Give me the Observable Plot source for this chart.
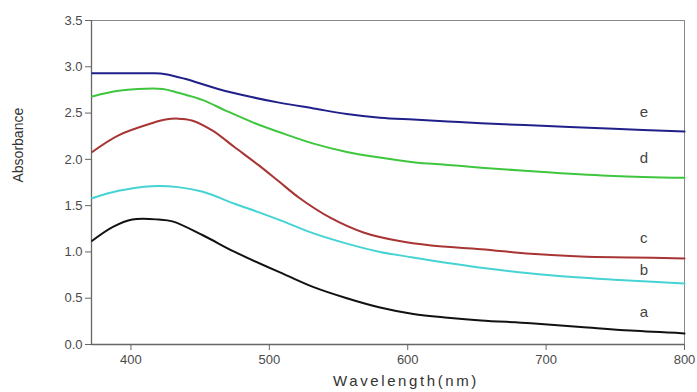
<!DOCTYPE html>
<html>
<head>
<meta charset="utf-8">
<script src="https://cdn.jsdelivr.net/npm/d3@7"></script>
<script src="https://cdn.jsdelivr.net/npm/@observablehq/plot@0.6"></script>
<style>
  html, body { margin: 0; padding: 0; background: #fff; }
  #chart svg { display: block; }
  #chart svg g.xlab text { letter-spacing: 2.6px; }
  #chart svg g.clab text { letter-spacing: 1px; }
</style>
</head>
<body>
<div id="chart"></div>
<script>
// Wavelength (nm) / absorbance readings per curve
const seriesNames = ["a", "b", "c", "d", "e"];
const seriesColors = ["#111111", "#45d3d3", "#a83434", "#3fc63f", "#20208a"];

const aX = [372, 387, 401, 420, 430, 452, 475, 512, 532, 556, 580, 604, 629, 653, 689, 725, 761, 800];
const aY = [1.12, 1.27, 1.35, 1.35, 1.33, 1.18, 1.00, 0.75, 0.62, 0.50, 0.40, 0.33, 0.29, 0.26, 0.23, 0.19, 0.15, 0.12];

const bX = [372, 391, 415, 434, 452, 475, 492, 510, 532, 556, 580, 604, 629, 653, 701, 749, 800];
const bY = [1.58, 1.66, 1.71, 1.70, 1.65, 1.52, 1.43, 1.33, 1.20, 1.09, 1.00, 0.94, 0.88, 0.83, 0.75, 0.70, 0.66];

const cX = [372, 391, 415, 425, 434, 444, 459, 475, 492, 507, 522, 544, 568, 593, 617, 653, 689, 725, 761, 800];
const cY = [2.08, 2.26, 2.39, 2.43, 2.44, 2.42, 2.31, 2.13, 1.94, 1.76, 1.58, 1.37, 1.21, 1.12, 1.07, 1.03, 0.98, 0.95, 0.94, 0.93];

const dX = [372, 391, 405, 423, 434, 452, 468, 488, 508, 532, 556, 580, 604, 629, 653, 701, 749, 800];
const dY = [2.68, 2.74, 2.76, 2.76, 2.72, 2.64, 2.53, 2.40, 2.29, 2.17, 2.08, 2.02, 1.97, 1.94, 1.91, 1.86, 1.82, 1.80];

const eX = [372, 391, 415, 425, 439, 463, 488, 508, 532, 556, 580, 604, 629, 653, 701, 749, 800];
const eY = [2.93, 2.93, 2.93, 2.92, 2.87, 2.76, 2.67, 2.61, 2.55, 2.49, 2.45, 2.43, 2.41, 2.39, 2.36, 2.33, 2.30];

// Curve label positions
const labelX = [771, 771, 771, 771, 771];
const labelY = [0.35, 0.80, 1.15, 2.01, 2.51];

const xTicks = [400, 500, 600, 700, 800];
const yTicks = [0.0, 0.5, 1.0, 1.5, 2.0, 2.5, 3.0, 3.5];

const allX = [aX, bX, cX, dX, eX];
const allY = [aY, bY, cY, dY, eY];
const rows = [];
seriesNames.forEach((s, i) => {
  allX[i].forEach((x, j) => rows.push({series: s, x, y: allY[i][j]}));
});
const labels = seriesNames.map((s, i) => ({series: s, x: labelX[i], y: labelY[i]}));

const chart = Plot.plot({
  width: 697,
  height: 392,
  marginLeft: 91,
  marginRight: 13,
  marginTop: 20,
  marginBottom: 48,
  style: {fontFamily: "'Liberation Sans', Arial, sans-serif", background: "#fff"},
  x: {domain: [371.5, 800]},
  y: {domain: [0, 3.5]},
  color: {domain: seriesNames, range: seriesColors},
  marks: [
    Plot.frame({stroke: "#8a8a8a", strokeWidth: 1}),
    Plot.axisX({ticks: xTicks, tickSize: 6, tickPadding: 4, label: null,
      fontSize: 13, fill: "#4a4a4a", stroke: "#666"}),
    Plot.axisY({ticks: yTicks, tickFormat: d3.format(".1f"), tickSize: 6, tickPadding: 3,
      label: null, fontSize: 13, fill: "#4a4a4a", stroke: "#666"}),
    Plot.ruleX([371.5], {stroke: "#666", strokeWidth: 1.3}),
    Plot.ruleY([0], {stroke: "#666", strokeWidth: 1.3}),
    Plot.line(rows, {x: "x", y: "y", z: "series", stroke: "series", strokeWidth: 2, curve: "catmull-rom"}),
    Plot.text(labels, {x: "x", y: "y", text: "series", fill: "#444", fontSize: 15, className: "clab"}),
    Plot.text(["Wavelength(nm)"], {frameAnchor: "bottom", dy: 41, dx: 18, fontSize: 15, fill: "#333", className: "xlab"}),
    Plot.text(["Absorbance"], {frameAnchor: "left", dx: -73, rotate: -90, fontSize: 14, fill: "#333"})
  ]
});
document.getElementById("chart").appendChild(chart);
</script>
</body>
</html>
